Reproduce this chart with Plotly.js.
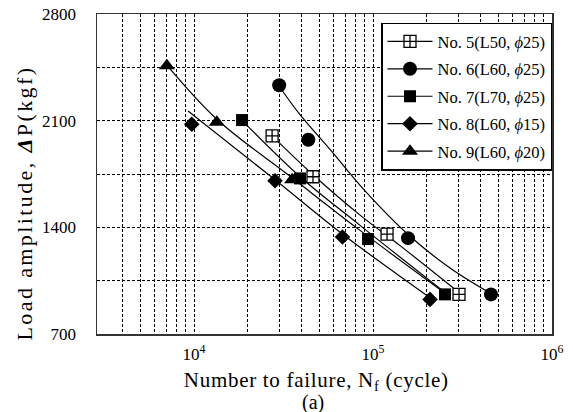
<!DOCTYPE html>
<html><head><meta charset="utf-8">
<script src="https://cdn.plot.ly/plotly-3.0.1.min.js"></script>
<style>
html,body{margin:0;padding:0;background:#fff}
g.annotation[data-index="0"] text{letter-spacing:0.7px}
g.annotation[data-index="1"] text{letter-spacing:2.4px}
</style>
</head><body><div id="chart" style="width:573px;height:412px"></div>
<script>
// Measured points (N = cycles to failure, P = load amplitude kgf)
const no5N = [27300, 46200, 119800, 302300];
const no5P = [2000, 1732, 1355, 960];
const no6N = [29900, 43500, 156900, 456100];
const no6P = [2332, 1975, 1329, 960];
const no7N = [18550, 39100, 93800, 252500];
const no7P = [2104, 1721, 1323, 960];
const no8N = [9710, 28350, 67500, 208200];
const no8P = [2076, 1706, 1337, 927];
const no9N = [7050, 13400, 35300];
const no9P = [2460, 2090, 1712];

// Fitted curves
const fit5N = [27300, 46200, 84600, 141600, 302300];
const fit5P = [2000, 1745, 1480, 1280, 972];
const fit6N = [29900, 39100, 57500, 90200, 156900, 269300, 456100];
const fit6P = [2326, 2139, 1911, 1639, 1353, 1133, 965];
const fit7N = [18550, 39100, 84600, 252500];
const fit7P = [2102, 1732, 1413, 972];
const fit8N = [9260, 28350, 68000, 208200];
const fit8P = [2164, 1712, 1353, 938];
const fit9N = [7070, 13450, 35300, 84600, 236700];
const fit9P = [2463, 2108, 1725, 1380, 992];

const seriesNames = [
  'No. 5(L50, <i>ϕ</i>25)',
  'No. 6(L60, <i>ϕ</i>25)',
  'No. 7(L70, <i>ϕ</i>25)',
  'No. 8(L60, <i>ϕ</i>15)',
  'No. 9(L60, <i>ϕ</i>20)'
];

const xTickVals = [4000,5000,6000,7000,8000,9000,10000,20000,30000,40000,50000,60000,70000,80000,90000,100000,200000,300000,400000,500000,600000,700000,800000,900000,1000000];
const xTickText = xTickVals.map(v => v === 10000 ? '10<sup>4</sup>' : v === 100000 ? '10<sup>5</sup>' : v === 1000000 ? '10<sup>6</sup>' : '');
const yTickVals = [700, 1050, 1400, 1750, 2100, 2450, 2800];
const yTickText = ['700', '', '1400', '', '2100', '', '2800'];

const xTitle = 'Number to failure, N<sub>f</sub> (cycle)';
const yTitle = 'Load amplitude, <b><i>Δ</i></b>P(kgf)';
const panelLabel = '(a)';

const FONT = 'Liberation Serif, Times New Roman, serif';
const markerSpecs = [
  {symbol: 'square-cross', size: 12, color: '#fff', line: {color: '#000', width: 1.3}},
  {symbol: 'circle', size: 14, color: '#000', line: {color: '#000', width: 0}},
  {symbol: 'square', size: 12, color: '#000', line: {color: '#000', width: 0}},
  {symbol: 'diamond', size: 12, color: '#000', line: {color: '#000', width: 0}},
  {symbol: 'triangle-up', size: 14, color: '#000', line: {color: '#000', width: 0}}
];
const pts = [[no5N, no5P], [no6N, no6P], [no7N, no7P], [no8N, no8P], [no9N, no9P]];
const fits = [[fit5N, fit5P], [fit6N, fit6P], [fit7N, fit7P], [fit8N, fit8P], [fit9N, fit9P]];

const traces = [];
fits.forEach((f, i) => {
  traces.push({x: f[0], y: f[1], type: 'scatter', mode: 'lines',
    line: {color: '#000', width: 1.2, shape: 'spline', smoothing: 1},
    showlegend: false, hoverinfo: 'skip'});
});
pts.forEach((p, i) => {
  traces.push({x: p[0], y: p[1], type: 'scatter', mode: 'markers',
    marker: markerSpecs[i], showlegend: false});
});
// legend entries (line + marker sample)
seriesNames.forEach((n, i) => {
  traces.push({x: [null], y: [null], type: 'scatter', mode: 'lines+markers', name: n,
    legendgroup: 'g' + i, line: {color: '#000', width: 1.2}, marker: markerSpecs[i]});
});

const layout = {
  width: 573, height: 412,
  margin: {l: 97, r: 21, t: 14, b: 78},
  paper_bgcolor: '#fff', plot_bgcolor: '#fff',
  font: {family: FONT, color: '#000', size: 17},
  showlegend: true,
  xaxis: {
    type: 'log', range: [Math.log10(2870), 6],
    tickmode: 'array', tickvals: xTickVals, ticktext: xTickText,
    showgrid: true, gridcolor: '#000', gridwidth: 1, griddash: '3px,2px',
    showline: true, mirror: true, linecolor: '#333', linewidth: 1.5,
    ticks: '', tickfont: {family: FONT, size: 17, color: '#000'},
    ticklabelstandoff: 4,
    zeroline: false
  },
  yaxis: {
    range: [700, 2800],
    tickmode: 'array', tickvals: yTickVals, ticktext: yTickText,
    showgrid: true, gridcolor: '#000', gridwidth: 1, griddash: '3px,2px',
    showline: true, mirror: true, linecolor: '#333', linewidth: 1.5,
    ticks: '', tickfont: {family: FONT, size: 17, color: '#000'},
    ticklabelstandoff: 16,
    zeroline: false
  },
  legend: {
    x: 1, xanchor: 'right', y: 0.973, yanchor: 'top',
    bgcolor: '#fff', bordercolor: '#000', borderwidth: 1.5,
    font: {family: FONT, size: 16.5, color: '#000'},
    itemwidth: 45, tracegroupgap: 3
  },
  annotations: [
    {xref: 'paper', yref: 'paper', x: 0.4835, y: -0.147, xanchor: 'center', yanchor: 'middle',
     text: xTitle, showarrow: false, font: {family: FONT, size: 21, color: '#000'}},
    {xref: 'paper', yref: 'paper', x: -0.158, y: 0.41, xanchor: 'center', yanchor: 'middle',
     textangle: -90, text: yTitle, showarrow: false, font: {family: FONT, size: 22, color: '#000'}},
    {xref: 'paper', yref: 'paper', x: 0.475, y: -0.215, xanchor: 'center', yanchor: 'middle',
     text: panelLabel, showarrow: false, font: {family: FONT, size: 20, color: '#000'}}
  ]
};

Plotly.newPlot('chart', traces, layout, {displayModeBar: false, staticPlot: true});
</script>
</body></html>
